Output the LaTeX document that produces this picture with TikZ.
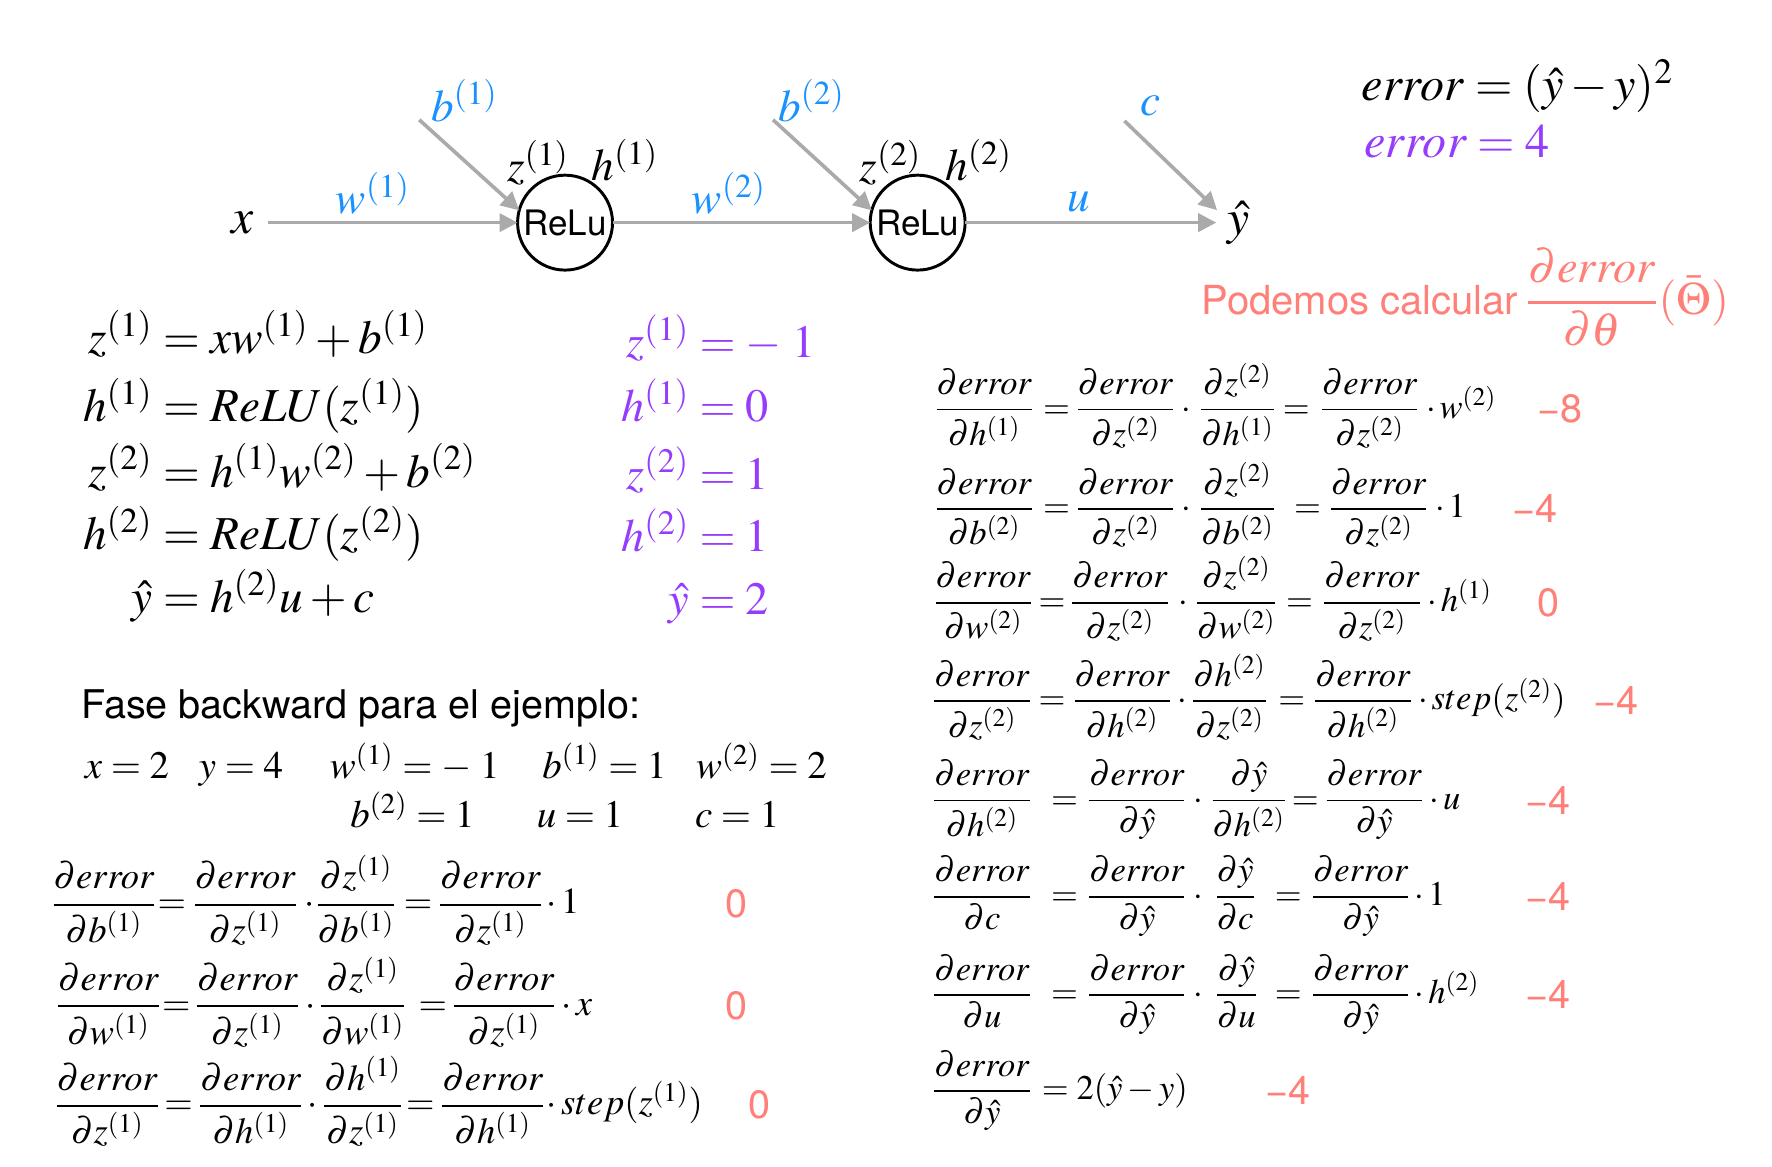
\documentclass[tikz,border=0pt]{standalone}
\usepackage{amsmath}
\usepackage{mathptmx}
\usepackage[no-math]{fontspec}
\newfontfamily\hv{TeX Gyre Heros}
\usetikzlibrary{arrows.meta}
\definecolor{cblue}{RGB}{25,145,255}
\definecolor{cpurp}{RGB}{150,60,252}
\definecolor{cred}{RGB}{255,128,120}
\definecolor{cgray}{RGB}{170,170,170}
\newcommand\pd[2]{\genfrac{}{}{0.85pt}{0}{\partial #1}{\partial #2}}
\begin{document}
\begin{tikzpicture}[x=0.5pt,y=-0.5pt,
  every node/.style={inner sep=0pt,outer sep=0pt},
  dl/.style={font=\fontsize{20}{24}\selectfont},
  dlb/.style={font=\fontsize{22}{26}\selectfont},
  bl/.style={text=cblue},
  relu/.style={circle,draw,line width=1.3pt,minimum size=42pt,font=\hv\fontsize{15.5}{18}\selectfont},
  arr/.style={draw=cgray,line width=1.6pt,-{Triangle[length=8pt,width=8pt]}},
  eq/.style={font=\fontsize{20.9}{24}\selectfont},
  pq/.style={font=\fontsize{20.5}{24}\selectfont},
  er/.style={font=\fontsize{21.3}{25}\selectfont},
  pu/.style={text=cpurp},
  val/.style={font=\fontsize{17.2}{21}\selectfont,anchor=base west},
  dR/.style={font=\fontsize{15.3}{19}\selectfont,anchor=base},
  dL/.style={font=\fontsize{16.2}{19}\selectfont,anchor=base},
  tl/.style={anchor=base west},
  rv/.style={text=cred,font=\hv\fontsize{17.5}{20}\selectfont}]
\fill[white] (0,0) rectangle (1568,1032);
\useasboundingbox (0,0) rectangle (1568,1032);

% ---------------- network diagram
\node[dlb] (xl) at (215,197) {$x$};
\node[relu] (c1) at (500,197) {ReLu};
\node[relu] (c2) at (812,197) {ReLu};
\node[dlb] (yh) at (1096,197) {$\hat{y}$};
\node[dl,bl] (w1) at (330,171) {$w^{(1)}$};
\node[dl,bl] (b1) at (411,89) {$b^{(1)}$};
\node[dl] (z1) at (476,144) {$z^{(1)}$};
\node[dl] (h1) at (553,142) {$h^{(1)}$};
\node[dl,bl] (w2) at (645,171) {$w^{(2)}$};
\node[dl,bl] (b2) at (718,89) {$b^{(2)}$};
\node[dl] (z2) at (788,144) {$z^{(2)}$};
\node[dl] (h2) at (866,142) {$h^{(2)}$};
\node[dl,bl] (ul) at (955,179) {$u$};
\node[dl,bl] (cl) at (1018,94) {$c$};
\coordinate (b1s) at (371,106);
\coordinate (b2s) at (684,106);
\coordinate (cs) at (995,107);
\coordinate (ct) at (1077,186);
\draw[arr,shorten <=6pt] (xl) -- (c1);
\draw[arr] (c1) -- (c2);
\draw[arr,shorten >=5pt] (c2) -- (yh);
\draw[arr] (b1s) -- (c1.165);
\draw[arr] (b2s) -- (c2.165);
\draw[arr] (cs) -- (ct);

% ---------------- error
\node[er,anchor=base west] (err) at (1205,89) {$error = (\hat{y} - y)^2$};
\node[er,pu,anchor=base west] (errv) at (1207,139) {$error = 4$};
\node[text=cred,anchor=base west] (pod) at (1063,278)
  {{\hv\fontsize{17.7}{20}\selectfont Podemos calcular} {\fontsize{20.5}{25}\selectfont$\genfrac{}{}{1pt}{0}{\partial error}{\partial\theta}(\bar{\Theta})$}};

% ---------------- forward equations
\node[eq,anchor=base east] (e1l) at (135,313) {$z^{(1)}$};
\node[eq,anchor=base west] (e1r) at (135,313) {${}= xw^{(1)} + b^{(1)}$};
\node[eq,anchor=base east] (e2l) at (135,373) {$h^{(1)}$};
\node[eq,anchor=base west] (e2r) at (135,373) {${}= ReLU(z^{(1)})$};
\node[eq,anchor=base east] (e3l) at (135,431) {$z^{(2)}$};
\node[eq,anchor=base west] (e3r) at (135,431) {${}= h^{(1)}w^{(2)} + b^{(2)}$};
\node[eq,anchor=base east] (e4l) at (135,486) {$h^{(2)}$};
\node[eq,anchor=base west] (e4r) at (135,486) {${}= ReLU(z^{(2)})$};
\node[eq,anchor=base east] (e5l) at (135,542) {$\hat{y}$};
\node[eq,anchor=base west] (e5r) at (135,542) {${}= h^{(2)}u + c$};

\node[pq,pu,anchor=base east] (p1l) at (610,316) {$z^{(1)}$};
\node[pq,pu,anchor=base west] (p1r) at (610,316) {${}= -\;1$};
\node[pq,pu,anchor=base east] (p2l) at (610,373) {$h^{(1)}$};
\node[pq,pu,anchor=base west] (p2r) at (610,373) {${}= 0$};
\node[pq,pu,anchor=base east] (p3l) at (610,433) {$z^{(2)}$};
\node[pq,pu,anchor=base west] (p3r) at (610,433) {${}= 1$};
\node[pq,pu,anchor=base east] (p4l) at (610,488) {$h^{(2)}$};
\node[pq,pu,anchor=base west] (p4r) at (610,488) {${}= 1$};
\node[pq,pu,anchor=base east] (p5l) at (610,544) {$\hat{y}$};
\node[pq,pu,anchor=base west] (p5r) at (610,544) {${}= 2$};

% ---------------- example values
\node[anchor=base west,font=\hv\fontsize{17.5}{21}\selectfont] (fase) at (72,636) {Fase backward para el ejemplo:};
\node[val] (vx) at (75,689) {$x = 2$};
\node[val] (vy) at (176,689) {$y = 4$};
\node[val] (vw1) at (292,689) {$w^{(1)} = -\;1$};
\node[val] (vb1) at (480,689) {$b^{(1)} = 1$};
\node[val] (vw2) at (616,689) {$w^{(2)} = 2$};
\node[val] (vb2) at (310,732) {$b^{(2)} = 1$};
\node[val] (vu) at (475,732) {$u = 1$};
\node[val] (vc) at (615,732) {$c = 1$};

% ---------------- left derivatives
\node[dL] (L1a) at (92,808.5) {$\pd{error}{b^{(1)}}$};
\node[dL] (L1e) at (152,808.5) {$=$};
\node[dL] (L1b) at (217,808.5) {$\pd{error}{z^{(1)}}$};
\node[dL] (L1d) at (274,808.5) {$\cdot$};
\node[dL] (L1c) at (315,808.5) {$\pd{z^{(1)}}{b^{(1)}}$};
\node[dL] (L1f) at (370,808.5) {$=$};
\node[dL] (L1g) at (434,808.5) {$\pd{error}{z^{(1)}}$};
\node[dL,tl] (L1t) at (484,808.5) {$\cdot\,1$};
\node[rv] (L1v) at (652,800) {0};

\node[dL] (L2a) at (96,898.5) {$\pd{error}{w^{(1)}}$};
\node[dL] (L2e) at (156,898.5) {$=$};
\node[dL] (L2b) at (219,898.5) {$\pd{error}{z^{(1)}}$};
\node[dL] (L2d) at (275,898.5) {$\cdot$};
\node[dL] (L2c) at (321,898.5) {$\pd{z^{(1)}}{w^{(1)}}$};
\node[dL] (L2f) at (383,898.5) {$=$};
\node[dL] (L2g) at (446,898.5) {$\pd{error}{z^{(1)}}$};
\node[dL,tl] (L2t) at (497,898.5) {$\cdot\,x$};
\node[rv] (L2v) at (652,890) {0};

\node[dL] (L3a) at (95,986.5) {$\pd{error}{z^{(1)}}$};
\node[dL] (L3e) at (158,986.5) {$=$};
\node[dL] (L3b) at (222,986.5) {$\pd{error}{h^{(1)}}$};
\node[dL] (L3d) at (277,986.5) {$\cdot$};
\node[dL] (L3c) at (321,986.5) {$\pd{h^{(1)}}{z^{(1)}}$};
\node[dL] (L3f) at (372,986.5) {$=$};
\node[dL] (L3g) at (436,986.5) {$\pd{error}{h^{(1)}}$};
\node[dL,tl] (L3t) at (484,986.5) {$\cdot\,step(z^{(1)})$};
\node[rv] (L3v) at (672,978) {0};

% ---------------- right derivatives
\node[dR] (R1a) at (871,370) {$\pd{error}{h^{(1)}}$};
\node[dR] (R1e) at (935,370) {$=$};
\node[dR] (R1b) at (996,370) {$\pd{error}{z^{(2)}}$};
\node[dR] (R1d) at (1050,370) {$\cdot$};
\node[dR] (R1c) at (1095,370) {$\pd{z^{(2)}}{h^{(1)}}$};
\node[dR] (R1f) at (1147,370) {$=$};
\node[dR] (R1g) at (1212,370) {$\pd{error}{z^{(2)}}$};
\node[dR,tl] (R1t) at (1262,370) {$\cdot\,w^{(2)}$};
\node[rv] (R1v) at (1380,362) {−8};

\node[dR] (R2a) at (871,458) {$\pd{error}{b^{(2)}}$};
\node[dR] (R2e) at (935,458) {$=$};
\node[dR] (R2b) at (996,458) {$\pd{error}{z^{(2)}}$};
\node[dR] (R2d) at (1050,458) {$\cdot$};
\node[dR] (R2c) at (1095,458) {$\pd{z^{(2)}}{b^{(2)}}$};
\node[dR] (R2f) at (1157,458) {$=$};
\node[dR] (R2g) at (1220,458) {$\pd{error}{z^{(2)}}$};
\node[dR,tl] (R2t) at (1270,458) {$\cdot\,1$};
\node[rv] (R2v) at (1358,450) {−4};

\node[dR] (R3a) at (870,541) {$\pd{error}{w^{(2)}}$};
\node[dR] (R3e) at (931,541) {$=$};
\node[dR] (R3b) at (991,541) {$\pd{error}{z^{(2)}}$};
\node[dR] (R3d) at (1047,541) {$\cdot$};
\node[dR] (R3c) at (1094,541) {$\pd{z^{(2)}}{w^{(2)}}$};
\node[dR] (R3f) at (1150,541) {$=$};
\node[dR] (R3g) at (1214,541) {$\pd{error}{z^{(2)}}$};
\node[dR,tl] (R3t) at (1263,541) {$\cdot\,h^{(1)}$};
\node[rv] (R3v) at (1370,533) {0};

\node[dR] (R4a) at (869,628) {$\pd{error}{z^{(2)}}$};
\node[dR] (R4e) at (931,628) {$=$};
\node[dR] (R4b) at (993,628) {$\pd{error}{h^{(2)}}$};
\node[dR] (R4d) at (1046,628) {$\cdot$};
\node[dR] (R4c) at (1088,628) {$\pd{h^{(2)}}{z^{(2)}}$};
\node[dR] (R4f) at (1143,628) {$=$};
\node[dR] (R4g) at (1206,628) {$\pd{error}{h^{(2)}}$};
\node[dR,tl] (R4t) at (1255,628) {$\cdot\,step(z^{(2)})$};
\node[rv] (R4v) at (1430,620) {−4};

\node[dR] (R5a) at (869,716) {$\pd{error}{h^{(2)}}$};
\node[dR] (R5e) at (942,716) {$=$};
\node[dR] (R5b) at (1006,716) {$\pd{error}{\hat{y}}$};
\node[dR] (R5d) at (1060,716) {$\cdot$};
\node[dR] (R5c) at (1105,716) {$\pd{\hat{y}}{h^{(2)}}$};
\node[dR] (R5f) at (1155,716) {$=$};
\node[dR] (R5g) at (1216,716) {$\pd{error}{\hat{y}}$};
\node[dR,tl] (R5t) at (1265,716) {$\cdot\,u$};
\node[rv] (R5v) at (1370,708) {−4};

\node[dR] (R6a) at (869,801) {$\pd{error}{c}$};
\node[dR] (R6e) at (942,801) {$=$};
\node[dR] (R6b) at (1006,801) {$\pd{error}{\hat{y}}$};
\node[dR] (R6d) at (1060,801) {$\cdot$};
\node[dR] (R6c) at (1093,801) {$\pd{\hat{y}}{c}$};
\node[dR] (R6f) at (1140,801) {$=$};
\node[dR] (R6g) at (1204,801) {$\pd{error}{\hat{y}}$};
\node[dR,tl] (R6t) at (1252,801) {$\cdot\,1$};
\node[rv] (R6v) at (1370,793) {−4};

\node[dR] (R7a) at (869,888) {$\pd{error}{u}$};
\node[dR] (R7e) at (942,888) {$=$};
\node[dR] (R7b) at (1006,888) {$\pd{error}{\hat{y}}$};
\node[dR] (R7d) at (1060,888) {$\cdot$};
\node[dR] (R7c) at (1094,888) {$\pd{\hat{y}}{u}$};
\node[dR] (R7f) at (1140,888) {$=$};
\node[dR] (R7g) at (1204,888) {$\pd{error}{\hat{y}}$};
\node[dR,tl] (R7t) at (1252,888) {$\cdot\,h^{(2)}$};
\node[rv] (R7v) at (1370,880) {−4};

\node[dR] (R8a) at (869,973) {$\pd{error}{\hat{y}}$};
\node[dR,tl] (R8t) at (922,973) {$=2(\hat{y} - y)$};
\node[rv] (R8v) at (1140,965) {−4};
\end{tikzpicture}
\end{document}
